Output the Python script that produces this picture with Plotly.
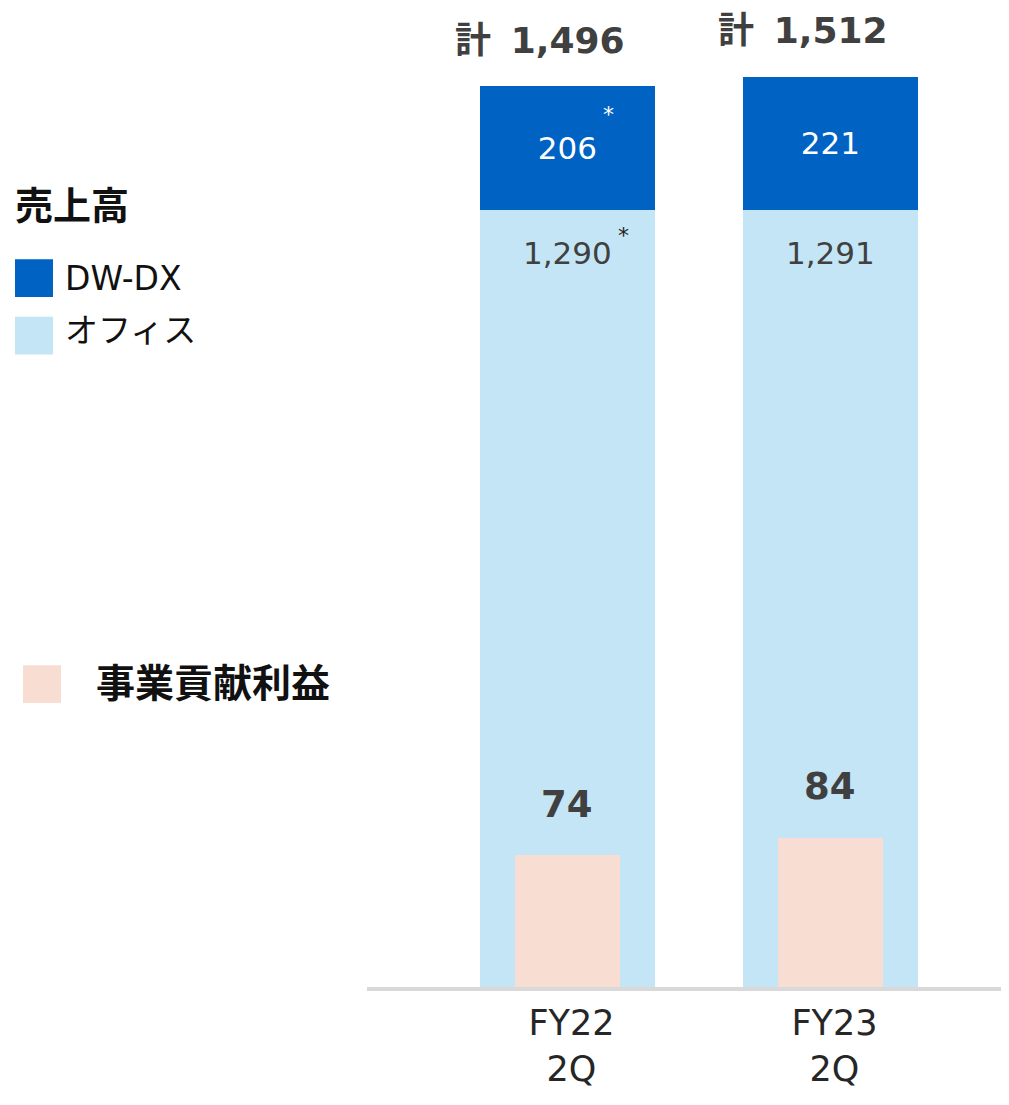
import plotly.graph_objects as go

# data
categories = ["FY22<br>2Q", "FY23<br>2Q"]
office = [1290, 1291]
dwdx = [206, 221]
profit = [74, 84]
revised = ["*", ""]          # footnote marks on FY22 values
totals = [o + d for o, d in zip(office, dwdx)]

C_DX = "#0062C3"
C_OFFICE = "#C3E5F5"
C_PROFIT = "#F8DED2"
C_TEXT = "#404040"
FONT = "DejaVu Sans, Noto Sans CJK JP, sans-serif"

# the page adds an 8px body margin plus a little extra below;
# keep the whole page inside the 1009x1105 window
PAD = 8
W, H = 1009 - 2 * PAD, 1105 - 3 * PAD
L, R, T = 367 - PAD, 0, 0
B = H - (994 - PAD)


def px(x):
    # page x (reference pixels) -> paper x
    return (x - PAD - L) / (W - L - R)


def py(y):
    # page y (reference pixels) -> paper y
    return (H - B - (y - PAD)) / (H - B - T)


plot_h = H - B - T
plot_w = W - L - R
x_left = -0.762
x_right = x_left + plot_w / 263.0

fig = go.Figure()
fig.add_trace(go.Bar(x=categories, y=office, name="オフィス", width=0.665,
                     marker=dict(color=C_OFFICE, line_width=0)))
fig.add_trace(go.Bar(x=categories, y=dwdx, name="DW-DX", width=0.665,
                     marker=dict(color=C_DX, line_width=0),
                     text=[str(v) for v in dwdx], textposition="inside",
                     insidetextanchor="middle",
                     textfont=dict(color="white", size=31, family=FONT)))
fig.add_trace(go.Bar(x=categories, y=profit, name="事業貢献利益", width=0.40,
                     marker=dict(color=C_PROFIT, line_width=0), yaxis="y2"))

ann = []
for c, o, d, t, p, m in zip(categories, office, dwdx, totals, profit, revised):
    ann.append(dict(x=c, y=t, text=f"<b>計 \u2009{t:,}</b>", showarrow=False,
                    yshift=46, xshift=-27, yanchor="middle", borderpad=0,
                    font=dict(size=36, color=C_TEXT, family=FONT)))
    ann.append(dict(x=c, y=o, text=f"{o:,}", showarrow=False, yshift=-43,
                    yanchor="middle", font=dict(size=31, color=C_TEXT, family=FONT)))
    ann.append(dict(x=c, y=p, yref="y2", text=f"<b>{p}</b>", showarrow=False,
                    yshift=51, yanchor="middle",
                    font=dict(size=37, color=C_TEXT, family=FONT)))
    if m:
        ann.append(dict(x=c, y=o + d / 2, text=m, showarrow=False, xshift=41, yshift=34,
                        font=dict(size=22, color="white", family=FONT)))
        ann.append(dict(x=c, y=o, text=m, showarrow=False, xshift=56, yshift=-25,
                        font=dict(size=22, color="#222222", family=FONT)))

# legend drawn by hand on the left
legend_font = dict(size=33, color="#111111", family=FONT)
ann += [
    dict(xref="paper", yref="paper", x=px(13), y=py(207), text="<b>売上高</b>",
         xanchor="left", yanchor="middle", showarrow=False,
         font=dict(size=38, color="#111111", family=FONT)),
    dict(xref="paper", yref="paper", x=px(63), y=py(280), text="DW-DX",
         xanchor="left", yanchor="middle", showarrow=False, font=legend_font),
    dict(xref="paper", yref="paper", x=px(63), y=py(333), text="オフィス",
         xanchor="left", yanchor="middle", showarrow=False, font=legend_font),
    dict(xref="paper", yref="paper", x=px(94), y=py(688), text="<b>事業貢献利益</b>",
         xanchor="left", yanchor="middle", showarrow=False,
         font=dict(size=39, color="#111111", family=FONT)),
]
shapes = [
    dict(type="rect", xref="paper", yref="paper", x0=px(15), x1=px(53),
         y0=py(299), y1=py(261), fillcolor=C_DX, line_width=0),
    dict(type="rect", xref="paper", yref="paper", x0=px(15), x1=px(53),
         y0=py(357), y1=py(319), fillcolor=C_OFFICE, line_width=0),
    dict(type="rect", xref="paper", yref="paper", x0=px(23), x1=px(61),
         y0=py(708), y1=py(670), fillcolor=C_PROFIT, line_width=0),
]

fig.update_layout(
    width=W, height=H, margin=dict(l=L, r=R, t=T, b=B),
    barmode="stack", showlegend=False,
    plot_bgcolor="white", paper_bgcolor="white",
    font=dict(family=FONT, color=C_TEXT),
    annotations=ann, shapes=shapes,
    xaxis=dict(range=[x_left, x_right], showline=True, linecolor="#D9D9D9", linewidth=4,
               showgrid=False, ticks="outside", ticklen=2, tickcolor="rgba(0,0,0,0)",
               ticklabelshift=4,
               tickfont=dict(size=35, color="#262626", family=FONT)),
    yaxis=dict(range=[0, plot_h * 1.649], visible=False, showgrid=False),
    yaxis2=dict(range=[0, plot_h * 0.558], visible=False, showgrid=False, overlaying="y"),
)

fig.write_html("out.html")
